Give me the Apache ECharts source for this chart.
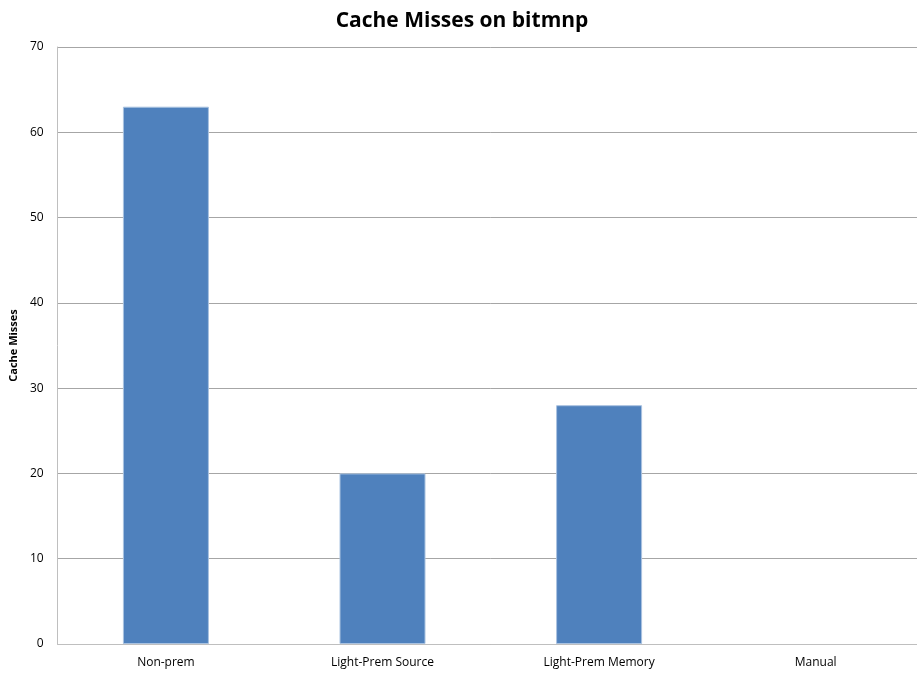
<!DOCTYPE html>
<html>
<head>
<meta charset="utf-8">
<script src="https://cdn.jsdelivr.net/npm/echarts@6/dist/echarts.min.js"></script>
<style>
  html, body { margin: 0; padding: 0; background: #fff; overflow: hidden; width: 917px; height: 677px; }
  /* the plot area runs a few pixels past the visible right edge */
  #chart { width: 924px; height: 677px; }
</style>
</head>
<body>
<div id="chart"></div>
<script>
// Cache miss counts per prefetching variant
const categories = ['Non-prem', 'Light-Prem Source', 'Light-Prem Memory', 'Manual'];
const cacheMisses = [63, 20, 28, 0];
const yTicks = { min: 0, max: 70, interval: 10 };

const fontFamily = '"Liberation Sans Narrow", "Open Sans", "Liberation Sans", sans-serif';

// give non-empty bars a faint light edge
const barData = cacheMisses.map(v => ({
  value: v,
  itemStyle: v > 0 ? { borderColor: '#a9c2e0', borderWidth: 1 } : { borderWidth: 0 }
}));

const chart = echarts.init(document.getElementById('chart'), null, { renderer: 'canvas' });
chart.setOption({
  animation: false,
  backgroundColor: '#ffffff',
  title: {
    text: 'Cache Misses on bitmnp',
    left: 'center',
    top: 6,
    textStyle: { fontFamily, fontSize: 21, fontWeight: 'bold', color: '#000' }
  },
  grid: { left: 56, right: 0, top: 47, bottom: 33, containLabel: false },
  xAxis: {
    type: 'category',
    data: categories,
    axisLine: { show: true, lineStyle: { color: '#bfbfbf', width: 1 } },
    axisTick: { show: false },
    axisLabel: { fontFamily, fontSize: 12, color: '#000', margin: 13 }
  },
  yAxis: {
    type: 'value',
    min: yTicks.min,
    max: yTicks.max,
    interval: yTicks.interval,
    name: 'Cache Misses',
    nameLocation: 'middle',
    nameGap: 33,
    nameTextStyle: { fontFamily, fontSize: 11, fontWeight: 'bold', color: '#000' },
    axisLine: { show: true, lineStyle: { color: '#bfbfbf', width: 1 } },
    axisTick: { show: false },
    axisLabel: { fontFamily, fontSize: 12, color: '#000', margin: 14 },
    splitLine: { show: true, lineStyle: { color: '#a6a6a6', width: 1 } }
  },
  series: [{
    type: 'bar',
    data: barData,
    barWidth: 86,
    itemStyle: { color: '#4f81bd' }
  }]
});
</script>
</body>
</html>
